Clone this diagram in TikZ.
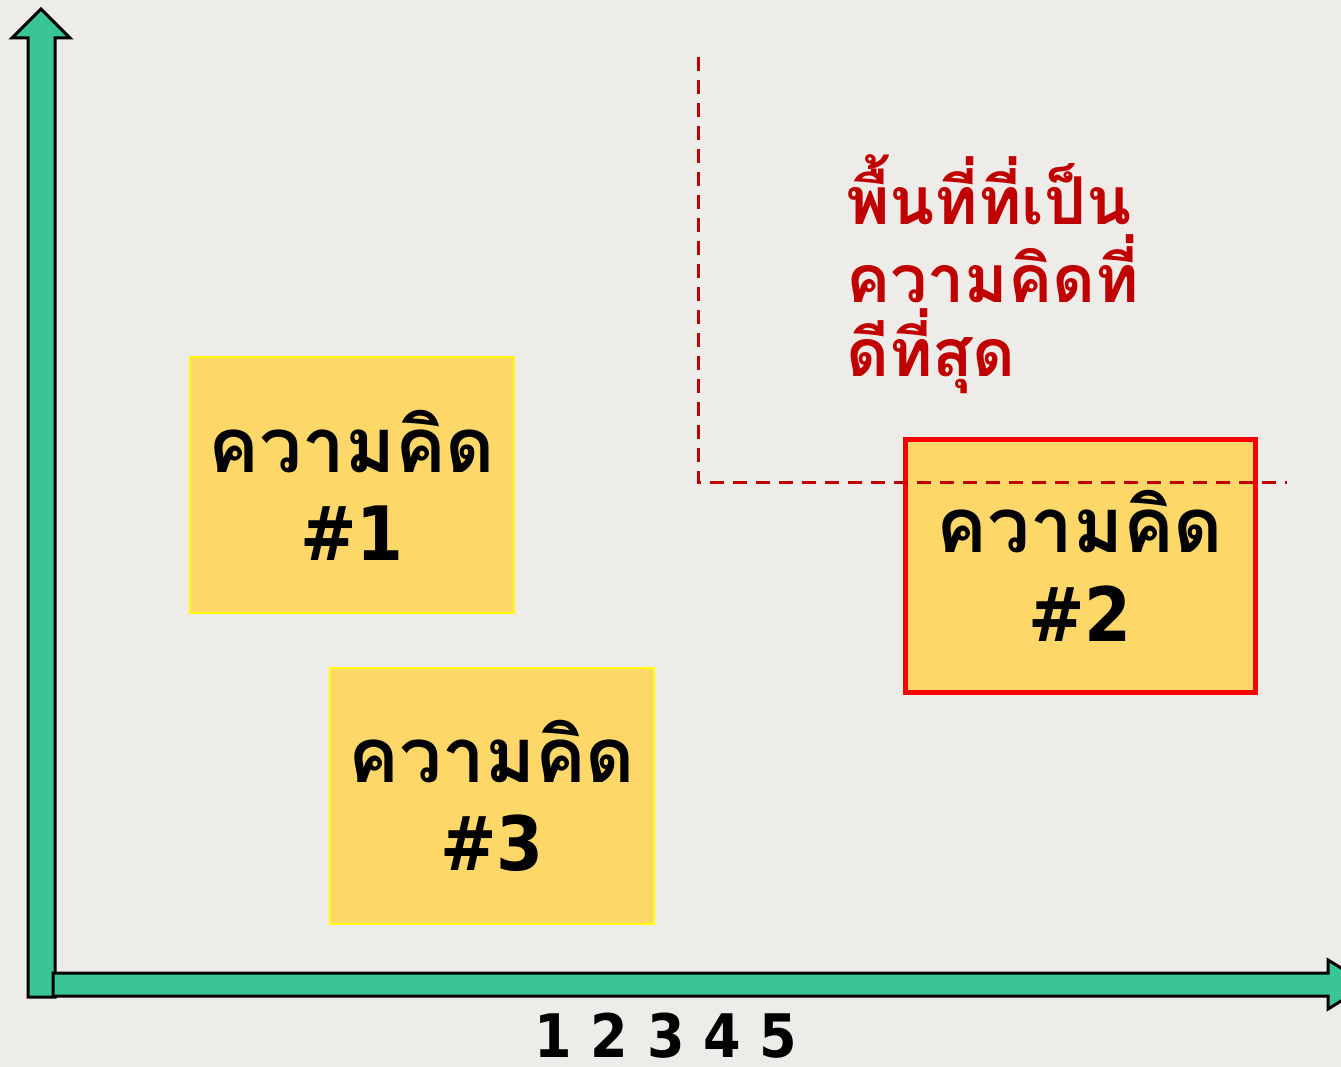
\documentclass[tikz,border=0pt]{standalone}
\usepackage{fontspec}
\newfontfamily\thaifont[Script=Thai]{Loma}
\newfontfamily\numfont[FakeStretch=0.9]{DejaVu Sans}
\definecolor{bgpaper}{HTML}{EEECE8}
\definecolor{axisgreen}{HTML}{3AC597}
\definecolor{boxfill}{HTML}{FDD868}
\definecolor{boxline}{HTML}{FFFF00}
\definecolor{bestred}{HTML}{FF0000}
\definecolor{darkred}{HTML}{C00000}
\begin{document}
\begin{tikzpicture}[x=1pt,y=-1pt,
  axisshape/.style={fill=axisgreen,draw=black,line width=3pt,line join=miter},
  ideabox/.style={draw=boxline,fill=boxfill,line width=1.5pt,inner sep=0pt},
  bestbox/.style={draw=bestred,fill=boxfill,line width=5pt,inner sep=0pt},
  thaitxt/.style={font=\thaifont\bfseries\fontsize{76}{85}\selectfont,anchor=base,inner sep=0pt},
  numtxt/.style={font=\numfont\bfseries\fontsize{75}{85}\selectfont,anchor=base,inner sep=0pt},
  redtxt/.style={font=\thaifont\bfseries\fontsize{66}{77}\selectfont,text=darkred,anchor=base west,inner sep=0pt},
  guide/.style={draw=darkred,line width=3pt,dash pattern=on 14pt off 9pt}
]
\fill[bgpaper] (0,0) rectangle (1341,1067);
\useasboundingbox (0,0) rectangle (1341,1067);
\begin{scope}
\clip (0,0) rectangle (1341,1067);
% axes
\draw[axisshape] (28,997) -- (28,38) -- (12,38) -- (41,9) -- (70,38) -- (55,38) -- (55,997) -- cycle;
\draw[axisshape] (53,973) -- (1328,973) -- (1328,960) -- (1368,984.5) -- (1328,1009) -- (1328,996) -- (53,996) -- cycle;
\end{scope}
% idea boxes
\node[ideabox,minimum width=324pt,minimum height=256pt] (b1) at (352,485) {};
\node[ideabox,minimum width=324pt,minimum height=256pt] (b3) at (492,796) {};
\node[bestbox,minimum width=350pt,minimum height=253pt] (b2) at (1080,565.5) {};
\node[thaitxt] (t1) at (352,472) {ความคิด};
\node[numtxt] (n1) at (352,560) {\#1};
\node[thaitxt] (t2) at (1080,552) {ความคิด};
\node[numtxt] (n2) at (1080,641) {\#2};
\node[thaitxt] (t3) at (492,782) {ความคิด};
\node[numtxt] (n3) at (492,870) {\#3};
% guide lines
\coordinate (gtop) at (698,57);
\coordinate (gcorner) at (698,482);
\coordinate (gend) at (1287,482);
\draw[guide] (gtop) -- (gcorner) -- (gend);
% best-area label
\node[redtxt] (r1) at (846,225) {พื้นที่ที่เป็น};
\node[redtxt] (r2) at (846,302) {ความคิดที่};
\node[redtxt] (r3) at (846,376) {ดีที่สุด};
% scale
\node[font=\numfont\bfseries\fontsize{60}{66}\selectfont,anchor=base,inner sep=0pt,text depth=0pt] (scale) at (666,1057) {1 2 3 4 5};
\end{tikzpicture}
\end{document}
